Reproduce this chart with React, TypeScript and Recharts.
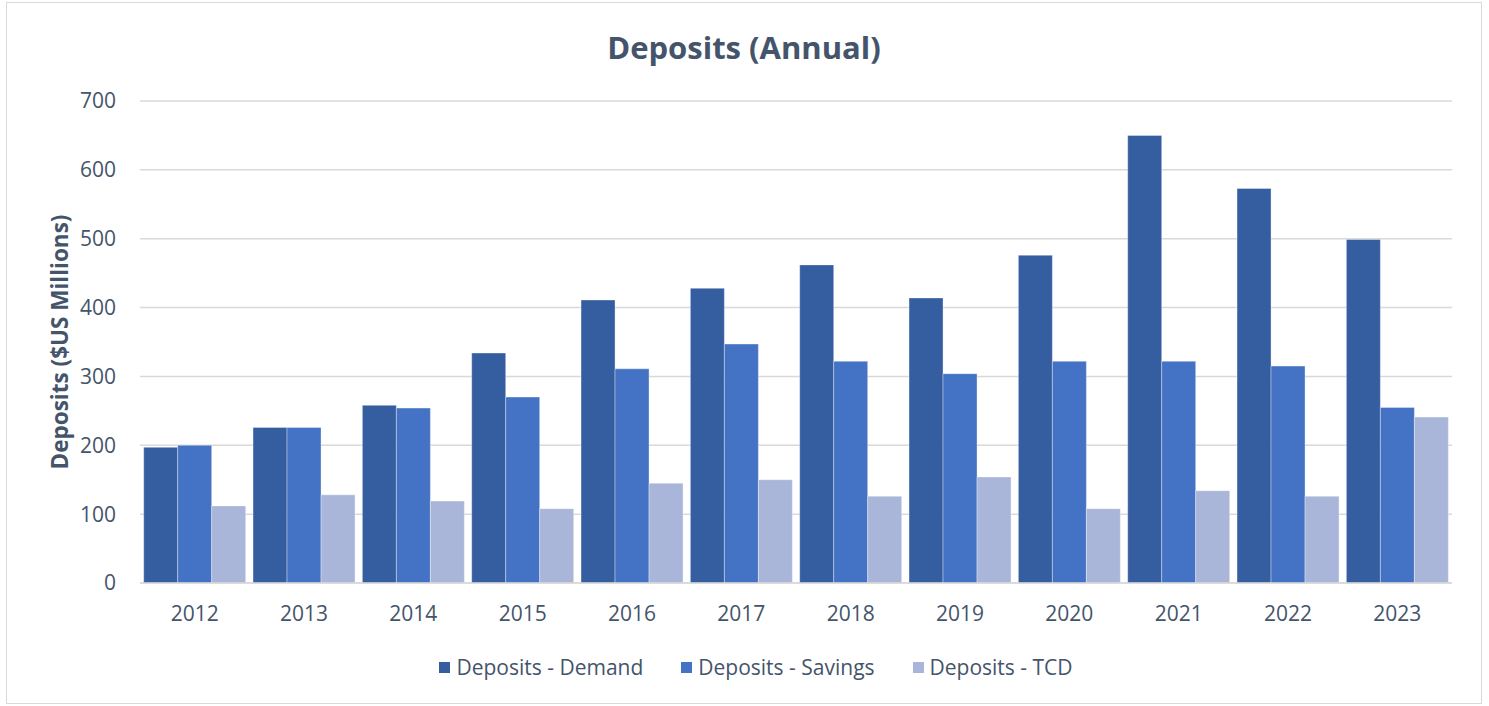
import React from "react";
import { BarChart, Bar, XAxis, YAxis, CartesianGrid, Legend, Label } from "recharts";

const years = ["2012", "2013", "2014", "2015", "2016", "2017", "2018", "2019", "2020", "2021", "2022", "2023"];
const demand = [197, 226, 258, 334, 411, 428, 462, 414, 476, 650, 573, 499];
const savings = [200, 226, 254, 270, 311, 347, 322, 304, 322, 322, 315, 255];
const tcd = [112, 128, 119, 108, 145, 150, 126, 154, 108, 134, 126, 241];
const yTicks = [0, 100, 200, 300, 400, 500, 600, 700];

const series = [
  { key: "demand", name: "Deposits - Demand", color: "#355EA1" },
  { key: "savings", name: "Deposits - Savings", color: "#4472C4" },
  { key: "tcd", name: "Deposits - TCD", color: "#A9B6DA" },
];

const data = years.map((year, i) => ({
  year,
  demand: demand[i],
  savings: savings[i],
  tcd: tcd[i],
}));

const FONT = "'Open Sans', 'Noto Sans', sans-serif";
const TEXT = "#44546A";

function LegendBox() {
  return (
    <div style={{ display: "flex", justifyContent: "center", alignItems: "center", height: 30, fontFamily: FONT, fontSize: 21, color: TEXT }}>
      {series.map((s) => (
        <div key={s.key} style={{ display: "flex", alignItems: "center", margin: "0 19px" }}>
          <span style={{ display: "inline-block", width: 11, height: 11, background: s.color, marginRight: 6 }} />
          <span>{s.name}</span>
        </div>
      ))}
    </div>
  );
}

export default function App() {
  return (
    <div style={{ position: "absolute", left: 0, top: 0, width: 1489, height: 706, background: "#fff" }}>
      <div
        style={{
          position: "absolute",
          left: 6,
          top: 2,
          width: 1476,
          height: 702,
          boxSizing: "border-box",
          border: "1.5px solid #D9D9D9",
        }}
      />
      <BarChart
        width={1489}
        height={706}
        data={data}
        margin={{ top: 101, right: 37, left: 60, bottom: 24 }}
        barCategoryGap={3.7}
        barGap={0}
      >
        <text x={744} y={47} textAnchor="middle" dominantBaseline="central" fontFamily={FONT} fontSize={31} fontWeight={700} fill={TEXT}>
          Deposits (Annual)
        </text>
        <CartesianGrid vertical={false} stroke="#D9D9D9" strokeWidth={1.5} />
        <XAxis
          dataKey="year"
          axisLine={{ stroke: "#D9D9D9", strokeWidth: 1.5 }}
          tickLine={false}
          tickSize={0}
          tickMargin={23}
          height={69}
          tick={{ fill: TEXT, fontSize: 21, fontFamily: FONT }}
        />
        <YAxis
          width={80}
          domain={[0, 700]}
          ticks={yTicks}
          axisLine={false}
          tickLine={false}
          tickSize={0}
          tickMargin={24}
          tick={{ fill: TEXT, fontSize: 21, fontFamily: FONT }}
        >
          <Label
            content={({ viewBox }: any) => {
              const cx = viewBox.x - 1;
              const cy = viewBox.y + viewBox.height / 2;
              return (
                <text
                  x={cx}
                  y={cy}
                  transform={`rotate(-90 ${cx} ${cy})`}
                  textAnchor="middle"
                  dominantBaseline="central"
                  fontFamily={FONT}
                  fontSize={22.5}
                  fontWeight={700}
                  fill={TEXT}
                >
                  Deposits ($US Millions)
                </text>
              );
            }}
          />
        </YAxis>
        <Legend verticalAlign="bottom" height={30} content={() => <LegendBox />} />
        {series.map((s) => (
          <Bar
            key={s.key}
            dataKey={s.key}
            name={s.name}
            fill={s.color}
            stroke="#ffffff"
            strokeOpacity={0.35}
            strokeWidth={1}
            isAnimationActive={false}
          />
        ))}
      </BarChart>
    </div>
  );
}
